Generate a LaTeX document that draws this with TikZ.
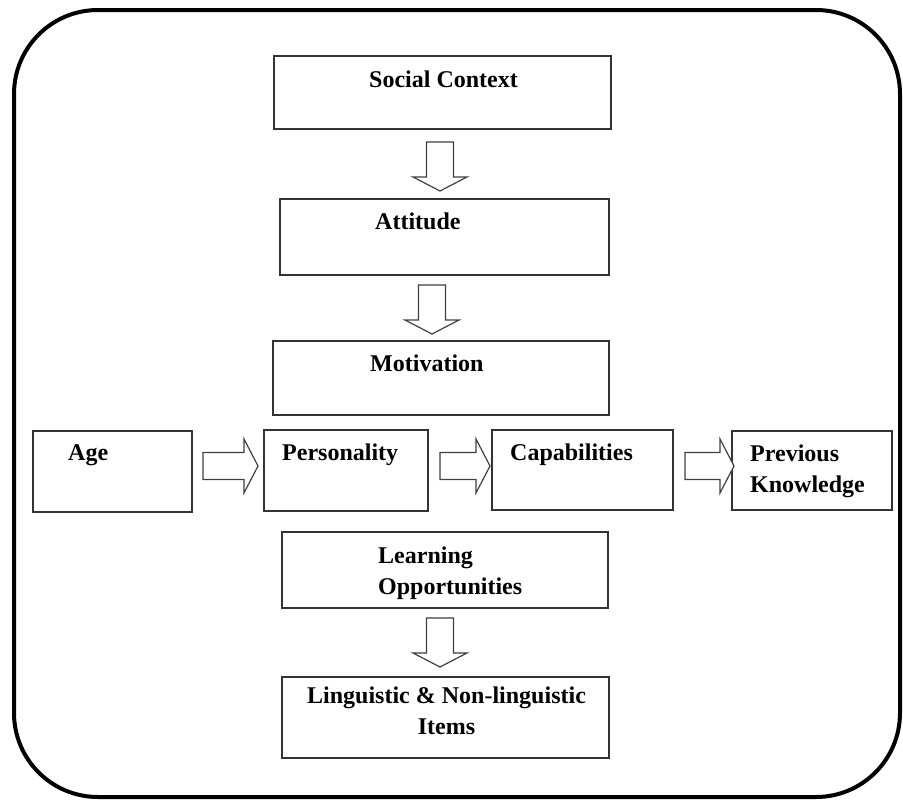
\documentclass[tikz,border=0pt]{standalone}
\usepackage{fontspec}
\setmainfont{Liberation Serif}
\usetikzlibrary{calc}

\newcommand{\hollowarrow}[2]{%
  \coordinate (hb) at ($(#2)!14pt!(#1)$);
  \draw[fatarrow] ($(#1)!13.5pt!90:(#2)$) -- ($(hb)!13.5pt!90:(#2)$)
    -- ($(hb)!27pt!90:(#2)$) -- (#2) -- ($(hb)!27pt!-90:(#2)$)
    -- ($(hb)!13.5pt!-90:(#2)$) -- ($(#1)!13.5pt!-90:(#2)$) -- cycle;
}

\begin{document}
\begin{tikzpicture}[x=1pt, y=-1pt,
  box/.style={draw=black!80, line width=1.4pt, rectangle, outer sep=0pt, inner sep=0pt},
  lbl/.style={inner sep=0pt, anchor=base west, font=\bfseries\fontsize{24}{31}\selectfont},
  fatarrow/.style={draw=black!75, line width=1.2pt, fill=white},
  frame/.style={draw=black, line width=4pt, rounded corners=84pt}]
\useasboundingbox (0,0) rectangle (903,803);
\draw[frame] (14,10) rectangle (900,797);
% boxes
\node[box, minimum width=337pt, minimum height=73pt] (soc) at (442.5,92.5) {};
\node[box, minimum width=329pt, minimum height=76pt] (att) at (444.5,237) {};
\node[box, minimum width=336pt, minimum height=74pt] (mot) at (441,378) {};
\node[box, minimum width=159pt, minimum height=81pt] (age) at (112.5,471.5) {};
\node[box, minimum width=164pt, minimum height=81pt] (per) at (346,470.5) {};
\node[box, minimum width=181pt, minimum height=80pt] (cap) at (582.5,470) {};
\node[box, minimum width=160pt, minimum height=79pt] (prev) at (812,470.5) {};
\node[box, minimum width=326pt, minimum height=76pt] (lrn) at (445,570) {};
\node[box, minimum width=327pt, minimum height=81pt] (ling) at (445.5,717.5) {};
% texts
\node[lbl] (socT) at (369,87) {Social Context};
\node[lbl] (attT) at (375,229) {Attitude};
\node[lbl] (motT) at (370,371) {Motivation};
\node[lbl] (ageT) at (68,460) {Age};
\node[lbl] (perT) at (282,460) {Personality};
\node[lbl] (capT) at (510,460) {Capabilities};
\node[lbl, align=left] (prevT) at (750,492) {Previous\\Knowledge};
\node[lbl, align=left] (lrnT) at (378,594) {Learning\\Opportunities};
\node[lbl, align=center] (lingT) at (307,734) {Linguistic \& Non-linguistic\\Items};
% arrows
\coordinate (s1) at (440,142); \coordinate (e1) at (440,191);
\coordinate (s2) at (432,285); \coordinate (e2) at (432,334);
\coordinate (s3) at (203,466); \coordinate (e3) at (258,466);
\coordinate (s4) at (440,466); \coordinate (e4) at (490,466);
\coordinate (s5) at (685,466); \coordinate (e5) at (734,466);
\coordinate (s6) at (440,618); \coordinate (e6) at (440,667);
\hollowarrow{s1}{e1}
\hollowarrow{s2}{e2}
\hollowarrow{s3}{e3}
\hollowarrow{s4}{e4}
\hollowarrow{s5}{e5}
\hollowarrow{s6}{e6}
\end{tikzpicture}
\end{document}
